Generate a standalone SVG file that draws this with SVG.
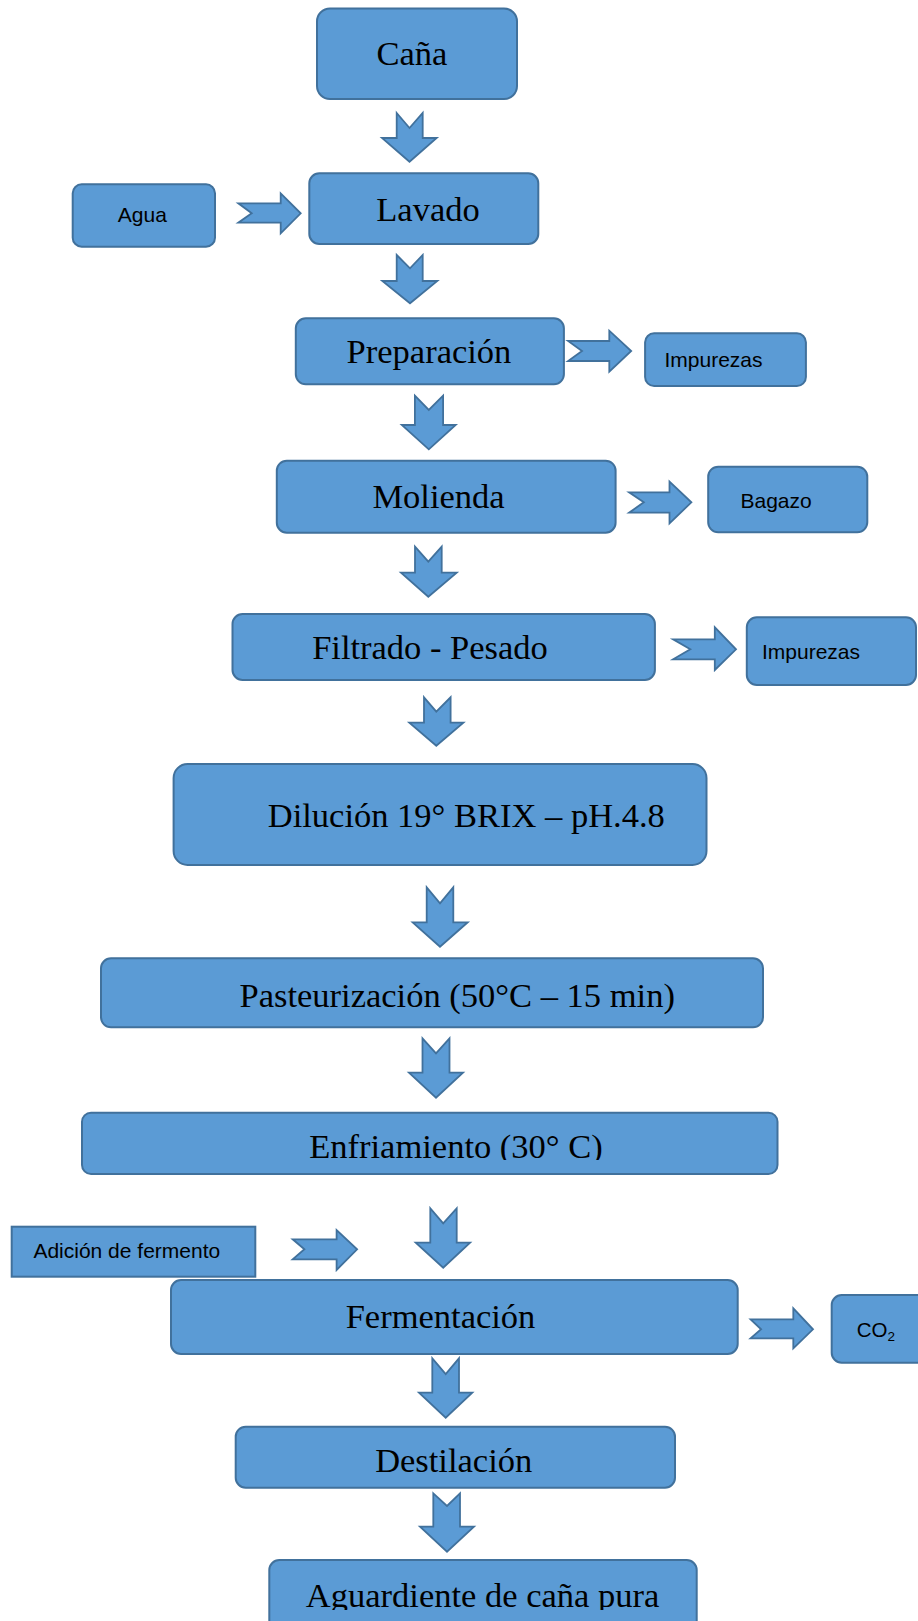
<svg xmlns="http://www.w3.org/2000/svg" width="918" height="1621" viewBox="0 0 918 1621">
<style>
.b{fill:#5B9BD5;stroke:#41719C;stroke-width:2}
.a{fill:#5B9BD5;stroke:#41719C;stroke-width:1.8;stroke-linejoin:miter}
.t{font-family:"Liberation Serif","Times New Roman",serif;font-size:34.5px;fill:#000;text-anchor:middle}
.s{font-family:"Liberation Sans",Arial,sans-serif;font-size:21px;fill:#000}
</style>
<defs>
<clipPath id="cE"><rect x="0" y="1100" width="918" height="60"/></clipPath>
<clipPath id="cA"><rect x="0" y="1550" width="918" height="60"/></clipPath>
</defs>
<rect width="918" height="1621" fill="#fff"/>
<g id="connectors">
<polygon class="a" points="396.7,113 409.5,128 422.7,113 422.7,138 436.7,138 409.5,161.7 382,138 396.7,138"/>
<polygon class="a" points="396.7,255 410,268.3 422.7,255 422.7,281 437.3,281 410,303.3 382.3,281 396.7,281"/>
<polygon class="a" points="414.9,395.7 428.8,410 443.1,395.7 443.1,425 455.7,425 428.8,449.3 401.8,425 414.9,425"/>
<polygon class="a" points="415,546.7 428.3,561.7 441.7,546.7 441.7,572.7 456.7,572.7 428.3,596.7 401,572.7 415,572.7"/>
<polygon class="a" points="424,697.3 436.3,711.7 450.6,697.3 450.6,722.7 463.4,722.7 436.3,745.7 409.3,722.7 424,722.7"/>
<polygon class="a" points="426.7,887.3 440,903.3 453.3,887.3 453.3,922.3 467.7,922.3 440,946.7 412.7,922.3 426.7,922.3"/>
<polygon class="a" points="422.5,1038.3 436,1053.3 449.5,1038.3 449.5,1072.7 463,1072.7 436,1097.7 409,1072.7 422.5,1072.7"/>
<polygon class="a" points="430.3,1208.3 443.2,1223.3 456.7,1208.3 456.7,1242.7 470.1,1242.7 443.2,1267.7 415.7,1242.7 430.3,1242.7"/>
<polygon class="a" points="432.3,1358.3 445.7,1374 459,1358.3 459,1392.7 472.3,1392.7 445.7,1417.7 419,1392.7 432.3,1392.7"/>
<polygon class="a" points="433.3,1493.3 447,1506 460,1493.3 460,1526.7 474,1526.7 447,1551.7 420,1526.7 433.3,1526.7"/>
<polygon class="a" points="238.3,203.3 280.7,203.3 280.7,193.3 300.7,213.3 280.7,233.3 280.7,222.7 238.3,222.7 251.7,213.3"/>
<polygon class="a" points="568.1,341 609.3,341 609.3,330.7 631.2,351 609.3,371.7 609.3,361 568.1,361 582,351"/>
<polygon class="a" points="629.1,492.3 669.5,492.3 669.5,481.7 691.4,502.3 669.5,523.3 669.5,512.7 629.1,512.7 643.8,502.3"/>
<polygon class="a" points="673.1,639.3 714.8,639.3 714.8,627.3 736,649.3 714.8,670 714.8,659.3 673.1,659.3 690.3,649.3"/>
<polygon class="a" points="292.7,1239.3 336.6,1239.3 336.6,1230 357.1,1249.3 336.6,1270 336.6,1259.3 292.7,1259.3 304.4,1249.3"/>
<polygon class="a" points="750.6,1319.3 793.3,1319.3 793.3,1308.3 813,1329.3 793.3,1348.3 793.3,1338.3 750.6,1338.3 761.1,1329.3"/>
</g>
<g id="cana"><rect class="b" x="317" y="8.5" width="200" height="90.5" rx="13"/><text class="t" x="412" y="65">Caña</text></g>
<g id="agua"><rect class="b" x="72.7" y="184.3" width="142.3" height="62.4" rx="9"/><text class="s" x="142.3" y="221.7" text-anchor="middle">Agua</text></g>
<g id="lavado"><rect class="b" x="309.3" y="173.3" width="229" height="70.7" rx="10"/><text class="t" x="428" y="220.7">Lavado</text></g>
<g id="preparacion"><rect class="b" x="295.8" y="318.3" width="268.1" height="66" rx="10"/><text class="t" x="429" y="363.3">Preparación</text></g>
<g id="impurezas1"><rect class="b" x="645.1" y="333.3" width="160.8" height="52.7" rx="9"/><text class="s" x="664.5" y="367">Impurezas</text></g>
<g id="molienda"><rect class="b" x="276.8" y="460.7" width="338.8" height="72" rx="10"/><text class="t" x="438.5" y="508.3">Molienda</text></g>
<g id="bagazo"><rect class="b" x="708.2" y="466.7" width="159.1" height="65.6" rx="10"/><text class="s" x="740.5" y="507.5">Bagazo</text></g>
<g id="filtrado"><rect class="b" x="232.5" y="614" width="422.4" height="66" rx="10"/><text class="t" x="430" y="659.3">Filtrado - Pesado</text></g>
<g id="impurezas2"><rect class="b" x="746.8" y="617.3" width="169.2" height="67.7" rx="10"/><text class="s" x="762" y="658.5">Impurezas</text></g>
<g id="dilucion"><rect class="b" x="173.6" y="764" width="532.9" height="101" rx="14"/><text class="t" x="466.3" y="826.7">Dilución 19° BRIX – pH.4.8</text></g>
<g id="pasteurizacion"><rect class="b" x="101" y="958.3" width="662" height="69" rx="10"/><text class="t" x="457.2" y="1006.5">Pasteurización (50°C – 15 min)</text></g>
<g id="enfriamiento"><rect class="b" x="82" y="1112.7" width="695.5" height="61.3" rx="9"/><text class="t" x="456" y="1158.3" clip-path="url(#cE)">Enfriamiento (30° C)</text></g>
<g id="adicion"><rect class="b" x="11.7" y="1226.7" width="243.6" height="50"/><text class="s" x="33.4" y="1258.3">Adición de fermento</text></g>
<g id="fermentacion"><rect class="b" x="171" y="1280" width="566.7" height="74" rx="10"/><text class="t" x="440.5" y="1328.3">Fermentación</text></g>
<g id="co2"><rect class="b" x="831.7" y="1295" width="95" height="67.7" rx="10"/><text class="s" x="856.7" y="1337.3" style="font-size:20.5px">CO<tspan font-size="13.5" dy="4">2</tspan></text></g>
<g id="destilacion"><rect class="b" x="235.7" y="1426.7" width="439.3" height="61" rx="10"/><text class="t" x="453.7" y="1472.3">Destilación</text></g>
<g id="aguardiente"><rect class="b" x="269.3" y="1560" width="427.4" height="80" rx="10"/><text class="t" x="482.6" y="1606.7" clip-path="url(#cA)">Aguardiente de caña pura</text></g>
</svg>
